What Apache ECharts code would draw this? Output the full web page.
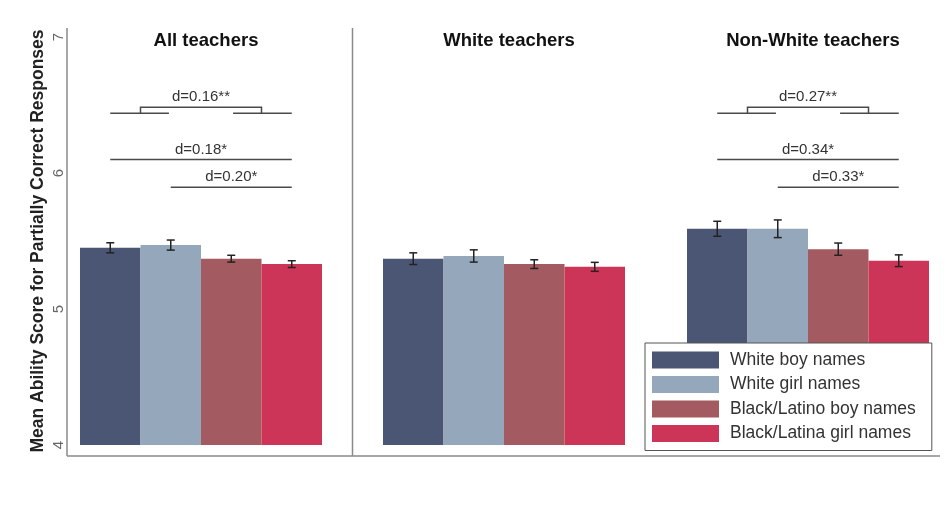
<!DOCTYPE html>
<html>
<head>
<meta charset="utf-8">
<script src="https://cdn.jsdelivr.net/npm/echarts@6/dist/echarts.min.js"></script>
<style>
  html, body { margin: 0; padding: 0; background: #fff; }
  #chart { width: 946px; height: 512px; }
</style>
</head>
<body>
<div id="chart"></div>
<script>
// panels and name groups
const panels = ['All teachers', 'White teachers', 'Non-White teachers'];
const groups = ['White boy names', 'White girl names', 'Black/Latino boy names', 'Black/Latina girl names'];

// mean ability score, one value per panel
const whiteBoy = [5.45, 5.37, 5.59];
const whiteGirl = [5.47, 5.39, 5.59];
const blackBoy = [5.37, 5.33, 5.44];
const blackGirl = [5.33, 5.31, 5.355];

// half width of the error bars
const errWhiteBoy = [0.037, 0.043, 0.055];
const errWhiteGirl = [0.037, 0.045, 0.065];
const errBlackBoy = [0.025, 0.032, 0.045];
const errBlackGirl = [0.025, 0.033, 0.043];

// effect size annotations (first one is the boys+girls bracket)
const effectLabels = [['d=0.16**', 'd=0.18*', 'd=0.20*'], [], ['d=0.27**', 'd=0.34*', 'd=0.33*']];
const effectFrom = [0, 0, 1];
const effectTo = [3, 3, 3];
const effectLevels = [6.44, 6.10, 5.895];

const yTicks = [4, 5, 6, 7];

const colors = ['#4b5675', '#95a8bb', '#a35a60', '#cd3558'];
const means = [whiteBoy, whiteGirl, blackBoy, blackGirl];
const errs = [errWhiteBoy, errWhiteGirl, errBlackBoy, errBlackGirl];

const gridLeft = [80, 383, 687];
const myChart = echarts.init(document.getElementById('chart'));

const grids = [], xAxes = [], yAxes = [], series = [], titles = [];
panels.forEach((p, i) => {
    grids.push({ left: gridLeft[i], top: 37, width: 242, height: 408 });
    xAxes.push({ type: 'category', gridIndex: i, data: [p], show: false });
    xAxes.push({ type: 'value', gridIndex: i, min: 0, max: 4, show: false });
    yAxes.push({
        type: 'value', gridIndex: i, min: 4, max: 7,
        show: i === 0,
        offset: 13,
        axisLine: { show: false },
        axisTick: { show: false },
        splitLine: { show: false },
        axisLabel: {
            customValues: yTicks, rotate: 90, margin: 1,
            color: '#666', fontSize: 15, fontFamily: 'Liberation Sans'
        },
        name: i === 0 ? 'Mean Ability Score for Partially Correct Responses' : '',
        nameLocation: 'middle',
        nameGap: 20,
        nameTextStyle: { color: '#222', fontSize: 17.5, fontWeight: 'bold', fontFamily: 'Liberation Sans' }
    });
    titles.push({
        text: p, left: gridLeft[i] + 121, top: 26, textAlign: 'center',
        textStyle: { color: '#111', fontSize: 18.5, fontWeight: 'bold', fontFamily: 'Liberation Sans' }
    });
    groups.forEach((g, k) => {
        series.push({
            name: g, type: 'bar', xAxisIndex: 2 * i, yAxisIndex: i,
            barGap: '0%', barCategoryGap: '0%',
            itemStyle: { color: colors[k] },
            silent: true,
            data: [means[k][i]]
        });
    });
    // error bars
    series.push({
        type: 'custom', xAxisIndex: 2 * i + 1, yAxisIndex: i, silent: true, z: 5,
        data: groups.map((g, k) => [k + 0.5, means[k][i] - errs[k][i], means[k][i] + errs[k][i]]),
        renderItem: function (params, api) {
            const top = api.coord([api.value(0), api.value(2)]);
            const bot = api.coord([api.value(0), api.value(1)]);
            const st = { stroke: '#222', lineWidth: 1.5 };
            return {
                type: 'group', children: [
                    { type: 'line', shape: { x1: top[0], y1: top[1], x2: bot[0], y2: bot[1] }, style: st },
                    { type: 'line', shape: { x1: top[0] - 4, y1: top[1], x2: top[0] + 4, y2: top[1] }, style: st },
                    { type: 'line', shape: { x1: bot[0] - 4, y1: bot[1], x2: bot[0] + 4, y2: bot[1] }, style: st }
                ]
            };
        }
    });
    // effect size lines
    if (effectLabels[i].length) {
        series.push({
            type: 'custom', xAxisIndex: 2 * i + 1, yAxisIndex: i, silent: true, z: 5,
            data: effectLabels[i].map((l, j) => [effectFrom[j] + 0.5, effectTo[j] + 0.5, effectLevels[j], j === 0 ? 1 : 0]),
            renderItem: function (params, api) {
                const x1 = api.value(0), x2 = api.value(1), y = api.value(2);
                const a = api.coord([x1, y]), b = api.coord([x2, y]);
                const st = { stroke: '#4a4a4a', lineWidth: 1.5, fill: null };
                const label = effectLabels[i][params.dataIndex];
                const cx = (a[0] + b[0]) / 2;
                const txt = { align: 'center', verticalAlign: 'middle', fill: '#333', fontSize: 15, fontFamily: 'Liberation Sans' };
                if (api.value(3) === 1) {
                    const l2 = api.coord([1.47, y])[0], r1 = api.coord([2.53, y])[0];
                    const c1 = api.coord([1, y])[0], c2 = api.coord([3, y])[0];
                    const up = a[1] - 6;
                    return {
                        type: 'group', children: [
                            { type: 'line', shape: { x1: a[0], y1: a[1], x2: l2, y2: a[1] }, style: st },
                            { type: 'line', shape: { x1: r1, y1: a[1], x2: b[0], y2: a[1] }, style: st },
                            { type: 'polyline', shape: { points: [[c1, a[1]], [c1, up], [c2, up], [c2, a[1]]] }, style: st },
                            { type: 'text', x: cx, y: up - 10, style: Object.assign({ text: label }, txt) }
                        ]
                    };
                }
                return {
                    type: 'group', children: [
                        { type: 'line', shape: { x1: a[0], y1: a[1], x2: b[0], y2: b[1] }, style: st },
                        { type: 'text', x: cx, y: a[1] - 10, style: Object.assign({ text: label }, txt) }
                    ]
                };
            }
        });
    }
});

const frame = { stroke: '#8a8a8a', lineWidth: 1.5 };
const option = {
    backgroundColor: '#fff',
    animation: false,
    title: titles,
    grid: grids,
    xAxis: xAxes,
    yAxis: yAxes,
    legend: {
        data: groups,
        orient: 'vertical',
        left: 645, top: 343,
        icon: 'rect',
        itemWidth: 67, itemHeight: 17, itemGap: 6.5,
        padding: [8, 16, 8, 7],
        backgroundColor: '#fff',
        borderColor: '#555', borderWidth: 1,
        textStyle: { color: '#333', fontSize: 17.5, lineHeight: 17, fontFamily: 'Liberation Sans', padding: [0, 0, 0, 6] },
        selectedMode: false
    },
    graphic: [
        { type: 'line', shape: { x1: 67, y1: 28, x2: 67, y2: 456 }, style: frame, z: 10 },
        { type: 'line', shape: { x1: 352.5, y1: 28, x2: 352.5, y2: 456 }, style: frame, z: 10 },
        { type: 'line', shape: { x1: 67, y1: 456, x2: 940, y2: 456 }, style: frame, z: 10 }
    ],
    series: series
};
myChart.setOption(option);
</script>
</body>
</html>
